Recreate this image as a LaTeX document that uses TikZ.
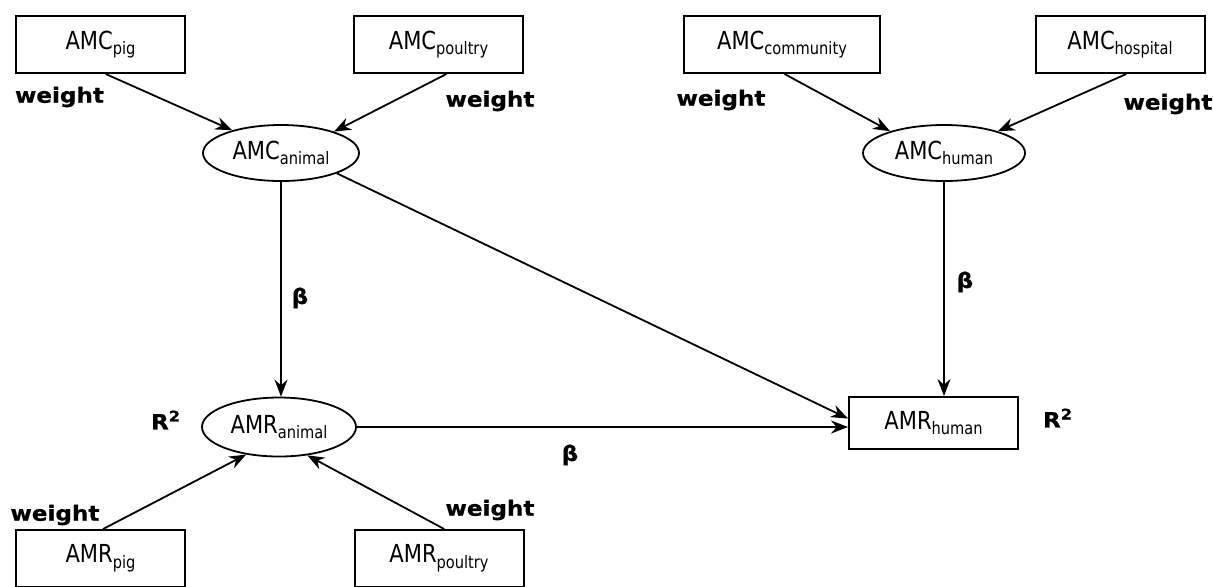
\documentclass[tikz,border=0pt]{standalone}
\usepackage{fontspec}
\setmainfont{DejaVu Sans}[FakeStretch=0.85]
\newfontfamily\labelfont{DejaVu Sans}[FakeStretch=1.1, BoldFeatures={FakeBold=0.6}]
\usetikzlibrary{positioning,shapes.geometric,arrows.meta}
\newcommand{\lowsub}[1]{\raisebox{-2.8pt}{\fontsize{8.6}{9}\selectfont #1}}

\begin{document}
\begin{tikzpicture}[x=0.5pt, y=-0.5pt,
        amcbox/.style={rectangle, draw, line width=1pt, minimum width=84.5pt, minimum height=28.5pt, inner sep=0pt, font=\fontsize{12.4}{14}\selectfont},
        amcell/.style={ellipse, draw, line width=0.9pt, minimum width=78pt, minimum height=28pt, inner sep=0pt, font=\fontsize{12.4}{14}\selectfont},
        wlabel/.style={font=\labelfont\bfseries\fontsize{10.5}{12}\selectfont},
        link/.style={-{Stealth[length=8.5pt, width=6.5pt, inset=2.8pt]}, line width=0.9pt}
    ]
    \useasboundingbox (0,0) rectangle (1213,586);

    % Consumption in animals and humans
    \node[amcbox] (pigC) at (100.5,44.5) {AMC\lowsub{pig}};
    \node[amcbox] (poultryC) at (438.5,44.5) {AMC\lowsub{poultry}};
    \node[amcbox, minimum width=98pt] (communityC) at (782,44.5) {AMC\lowsub{community}};
    \node[amcbox] (hospitalC) at (1120,44.5) {AMC\lowsub{hospital}};
    \node[amcell] (animalC) at (281,153) {AMC\lowsub{animal}};
    \node[amcell, minimum width=81pt] (humanC) at (944,153) {AMC\lowsub{human}};

    % Resistance
    \node[amcell, minimum width=77pt, minimum height=29.5pt] (animalR) at (279,427) {AMR\lowsub{animal}};
    \node[amcbox, minimum height=26pt] (humanR) at (933.5,423) {AMR\lowsub{human}};
    \node[amcbox] (pigR) at (100.5,558.5) {AMR\lowsub{pig}};
    \node[amcbox] (poultryR) at (439,558.5) {AMR\lowsub{poultry}};

    % Labels
    \node[wlabel] (wpigC) at (59.5,97) {weight};
    \node[wlabel] (wpoultryC) at (490,101) {weight};
    \node[wlabel] (wcommunityC) at (721,100) {weight};
    \node[wlabel] (whospitalC) at (1168,104) {weight};
    \node[wlabel] (wpigR) at (55,515) {weight};
    \node[wlabel] (wpoultryR) at (490,510) {weight};
    \node[wlabel] (betaA) at (300,298) {β};
    \node[wlabel] (betaH) at (965,282) {β};
    \node[wlabel] (betaR) at (570,455) {β};
    \node[wlabel] (rsqA) at (166,420) {R\textsuperscript{2}};
    \node[wlabel] (rsqH) at (1058,418) {R\textsuperscript{2}};

    \draw[link] (pigC.-80) -- (animalC.155);
    \draw[link] (poultryC.-75) -- (animalC.22);
    \draw[link] (communityC.-85) -- (humanC.158);
    \draw[link] (hospitalC.-78) -- (humanC.22);
    \draw[link] (animalC.south) -- (animalC.south |- animalR.north);
    \draw[link] (animalC.-20) -- (humanR.177);
    \draw[link] (animalR.east) -- (animalR.east -| humanR.west);
    \draw[link] (humanC.south) -- (humanC.south |- humanR.north);
    \draw[link] (pigR.85) -- (animalR.-140);
    \draw[link] (poultryR.80) -- (animalR.-45);
\end{tikzpicture}
\end{document}
